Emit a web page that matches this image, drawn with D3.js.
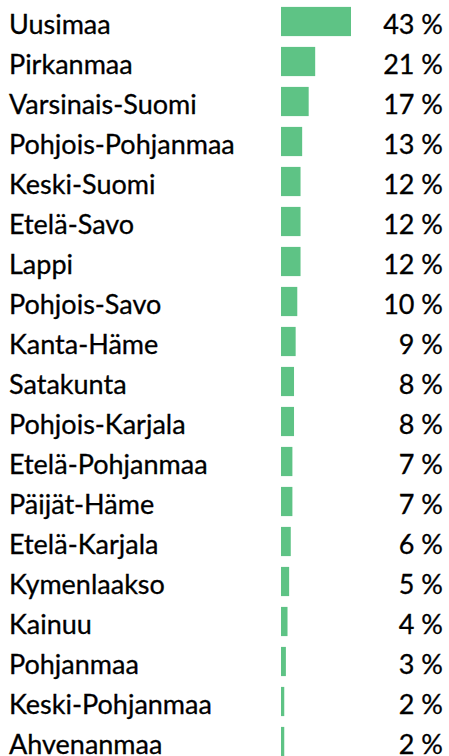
<!DOCTYPE html>
<html><head><meta charset="utf-8">
<script src="https://cdn.jsdelivr.net/npm/d3@7"></script>
<style>body{margin:0;background:#fff}svg{display:block}</style>
</head><body>
<script>
const regions = ["Uusimaa","Pirkanmaa","Varsinais-Suomi","Pohjois-Pohjanmaa","Keski-Suomi","Etelä-Savo","Lappi","Pohjois-Savo","Kanta-Häme","Satakunta","Pohjois-Karjala","Etelä-Pohjanmaa","Päijät-Häme","Etelä-Karjala","Kymenlaakso","Kainuu","Pohjanmaa","Keski-Pohjanmaa","Ahvenanmaa"];
const shares = [43,21,17,13,12,12,12,10,9,8,8,7,7,6,5,4,3,2,2];

const W = 449, H = 756;
const svg = d3.select("body").append("svg").attr("width", W).attr("height", H);
const y = d3.scaleBand().domain(regions).range([1.5, 1.5 + 40*regions.length]).paddingInner(0.27).paddingOuter(0.135);
const x = d3.scaleLinear().domain([0, 43]).range([281, 351]);
const font = "Lato, 'Open Sans', sans-serif";

svg.selectAll("rect.bar").data(regions).join("rect").attr("class","bar")
  .attr("x", x(0)).attr("y", d => y(d)).attr("height", y.bandwidth())
  .attr("width", (d,i) => x(shares[i]) - x(0)).attr("fill", "#5ec385");

svg.selectAll("text.lab").data(regions).join("text").attr("class","lab")
  .attr("x", 9).attr("y", d => y(d) + y.bandwidth()/2 + 12)
  .attr("font-family", font).attr("font-size", 27).attr("fill", "#000")
  .attr("stroke", "#000").attr("stroke-width", 0.3)
  .text(d => d);

svg.selectAll("text.val").data(regions).join("text").attr("class","val")
  .attr("x", 443).attr("text-anchor","end").attr("y", d => y(d) + y.bandwidth()/2 + 12)
  .attr("font-family", font).attr("font-size", 27).attr("fill", "#000")
  .attr("stroke", "#000").attr("stroke-width", 0.3)
  .text((d,i) => shares[i] + " %");
</script>
</body></html>
